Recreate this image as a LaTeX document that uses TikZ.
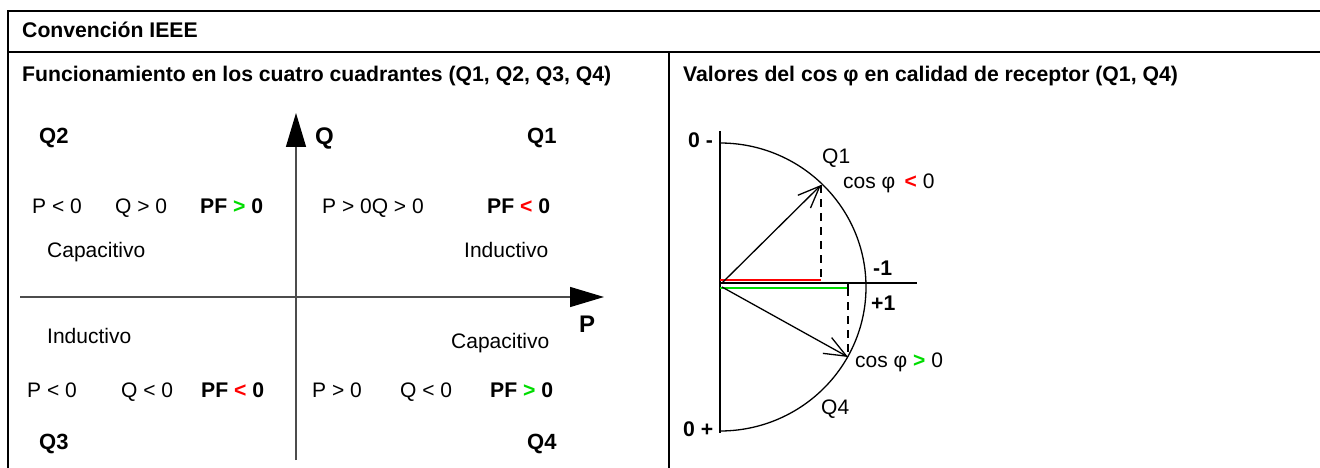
\documentclass[tikz,border=0pt]{standalone}
\usepackage{fontspec}
\setmainfont{Liberation Sans}
\usetikzlibrary{arrows.meta}
\definecolor{pgreen}{RGB}{0,220,0}
\definecolor{pred}{RGB}{255,0,0}
\begin{document}
\begin{tikzpicture}[x=1pt,y=-1pt,
  frame/.style={line width=2.6pt},
  txt/.style={font=\fontsize{21}{24}\selectfont, inner sep=0pt, anchor=base west},
  btxt/.style={font=\fontsize{21.2}{24}\selectfont\bfseries, inner sep=0pt, anchor=base west},
  qtxt/.style={font=\fontsize{22}{24}\selectfont\bfseries, inner sep=0pt, anchor=base west},
  axtxt/.style={font=\fontsize{24}{26}\selectfont\bfseries, inner sep=0pt, anchor=base west},
  axisline/.style={line width=1.3pt, draw=black!70, -{Triangle[length=34pt,width=20pt,color=black]}},
  vec/.style={line width=1.3pt, -{Straight Barb[length=22pt,width=18pt,line width=1.3pt]}},
  plain/.style={line width=1.3pt},
  dsh/.style={line width=1.3pt, dash pattern=on 8pt off 6pt}
]
\useasboundingbox (0,0) rectangle (1320,468);
% frame
\coordinate (tl) at (8,11);
\coordinate (tr) at (1320,11);
\coordinate (bl) at (8,468);
\coordinate (sl) at (8,52);
\coordinate (sr) at (1320,52);
\coordinate (mt) at (669,52);
\coordinate (mb) at (669,468);
\draw[frame] (tr) -- (tl) -- (bl);
\draw[frame] (sl) -- (sr);
\draw[frame] (mt) -- (mb);
% headings
\node[btxt] (title) at (22,38) {Convención IEEE};
\node[btxt] (hl) at (22,82) {Funcionamiento en los cuatro cuadrantes (Q1, Q2, Q3, Q4)};
\node[btxt] (hr) at (683,82) {Valores del cos φ en calidad de receptor (Q1, Q4)};
% left axes
\coordinate (vb) at (296,460);
\coordinate (vt) at (296,113);
\coordinate (hb) at (20,297);
\coordinate (ht) at (604,297);
\draw[axisline] (vb) -- (vt);
\draw[axisline] (hb) -- (ht);
\node[axtxt] (Qlab) at (315,145) {Q};
\node[axtxt] (Plab) at (579,332) {P};
% quadrant labels
\node[qtxt] (q2) at (39,143) {Q2};
\node[qtxt] (q1) at (527,143) {Q1};
\node[qtxt] (q3) at (39,449) {Q3};
\node[qtxt] (q4) at (527,449) {Q4};
% row 1
\node[txt] (r1a) at (32,213) {P < 0};
\node[txt] (r1b) at (115,213) {Q > 0};
\node[btxt] (r1c) at (200,213) {PF \textcolor{pgreen}{>} 0};
\node[txt] (r1d) at (322,213) {P > 0Q > 0};
\node[btxt] (r1e) at (487,213) {PF \textcolor{pred}{<} 0};
\node[txt] (cap1) at (47,257) {Capacitivo};
\node[txt] (ind1) at (464,257) {Inductivo};
\node[txt] (ind2) at (47,343) {Inductivo};
\node[txt] (cap2) at (451,348) {Capacitivo};
% row 2
\node[txt] (r2a) at (27,397) {P < 0};
\node[txt] (r2b) at (121,397) {Q < 0};
\node[btxt] (r2c) at (201,397) {PF \textcolor{pred}{<} 0};
\node[txt] (r2d) at (312,397) {P > 0};
\node[txt] (r2e) at (400,397) {Q < 0};
\node[btxt] (r2f) at (490,397) {PF \textcolor{pgreen}{>} 0};
% right panel
\coordinate (yt) at (720,131);
\coordinate (yb) at (720,433);
\coordinate (O) at (720,283);
\coordinate (Ov) at (722,283);
\coordinate (Ow) at (722,287);
\coordinate (xe) at (917,283);
\coordinate (A) at (821,185);
\coordinate (Aa) at (821,283);
\coordinate (B) at (848,357);
\coordinate (Bb) at (848,288);
\coordinate (Bt) at (848,283);
\coordinate (rs) at (720,280);
\coordinate (re) at (821,280);
\coordinate (gs) at (720,288);
\coordinate (arcs) at (720,143);
\draw[plain] (yt) -- (yb);
\draw[plain] (O) -- (xe);
\draw[plain] (arcs) arc[start angle=-90, end angle=90, x radius=146, y radius=144];
\draw[line width=1.3pt, draw=pred] (rs) -- (re);
\draw[line width=1.3pt, draw=pgreen] (gs) -- (Bb);
\draw[plain] (Bt) -- (Bb);
\draw[dsh] (A) -- (Aa);
\draw[dsh] (Bb) -- (B);
\draw[vec] (Ov) -- (A);
\draw[vec] (Ow) -- (B);
\node[btxt] (zm) at (688,147) {0 -};
\node[btxt] (zp) at (683,436) {0 +};
\node[btxt] (m1) at (873,275) {-1};
\node[btxt] (p1) at (871,310) {+1};
\node[txt] (lq1) at (822,164) {Q1};
\node[txt] (lq4) at (821,414) {Q4};
\node[txt] (c1) at (843,188) {cos φ \,\textbf{\textcolor{pred}{<}} 0};
\node[txt] (c2) at (855,367) {cos φ \textbf{\textcolor{pgreen}{>}} 0};
\end{tikzpicture}
\end{document}
